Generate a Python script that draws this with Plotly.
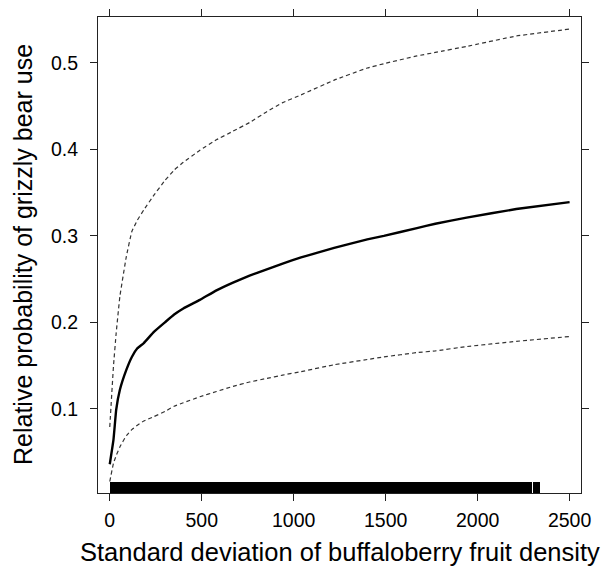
import plotly.graph_objects as go

x_vals = [0, 20, 35, 55, 90, 120, 150, 185, 240, 300, 350, 400, 490, 580, 670,
          760, 850, 940, 1040, 1220, 1400, 1490, 1670, 1770, 1940, 2210, 2500]
mean_prob = [0.036, 0.064, 0.099, 0.122, 0.145, 0.160, 0.170, 0.176, 0.189, 0.200,
             0.209, 0.216, 0.226, 0.237, 0.246, 0.254, 0.261, 0.268, 0.275, 0.286,
             0.296, 0.300, 0.309, 0.314, 0.321, 0.331, 0.339]
upper_ci = [0.079, 0.149, 0.188, 0.230, 0.276, 0.305, 0.318, 0.330, 0.347, 0.364,
            0.376, 0.385, 0.399, 0.411, 0.421, 0.431, 0.443, 0.454, 0.463, 0.480,
            0.494, 0.499, 0.508, 0.512, 0.519, 0.531, 0.539]
lower_ci = [0.016, 0.037, 0.046, 0.056, 0.069, 0.076, 0.081, 0.086, 0.091, 0.097,
            0.103, 0.107, 0.114, 0.120, 0.126, 0.131, 0.135, 0.139, 0.143, 0.151,
            0.157, 0.160, 0.165, 0.167, 0.172, 0.178, 0.1836]

# rug (observed data density) segments along the x axis
rug_start = [0, 2301]
rug_end = [2298, 2341]
rug_base = 0.0027
rug_height = 0.0125

x_ticks = [0, 500, 1000, 1500, 2000, 2500]
y_ticks = [0.1, 0.2, 0.3, 0.4, 0.5]
y_tick_text = ["0.1", "0.2", "0.3", "0.4", "0.5"]

x_title = "Standard deviation of buffaloberry fruit density"
y_title = "Relative probability of grizzly bear use"

FONT = "Liberation Sans, Arial, sans-serif"

fig = go.Figure()

fig.add_trace(go.Bar(
    x=[(s + e) / 2 for s, e in zip(rug_start, rug_end)],
    width=[e - s for s, e in zip(rug_start, rug_end)],
    y=[rug_height] * len(rug_start),
    base=[rug_base] * len(rug_start),
    marker=dict(color="black", line=dict(width=0)),
    showlegend=False, hoverinfo="skip",
))

dash_line = dict(color="#333333", width=1.2, dash="4px,3px", shape="spline", smoothing=0.3)
fig.add_trace(go.Scatter(x=x_vals, y=upper_ci, mode="lines", line=dash_line, showlegend=False))
fig.add_trace(go.Scatter(x=x_vals, y=lower_ci, mode="lines", line=dash_line, showlegend=False))
fig.add_trace(go.Scatter(x=x_vals, y=mean_prob, mode="lines",
                         line=dict(color="black", width=2.4, shape="spline", smoothing=0.3),
                         showlegend=False))

fig.update_layout(
    width=601, height=567,
    margin=dict(l=98, r=20, t=17, b=74),
    paper_bgcolor="white", plot_bgcolor="white",
    font=dict(family=FONT, color="black"),
    bargap=0,
    annotations=[
        dict(text=x_title, xref="paper", yref="paper", x=0.5, y=0,
             xanchor="center", yanchor="middle", yshift=-59, showarrow=False,
             font=dict(size=25.5, family=FONT, color="black")),
        dict(text=y_title, xref="paper", yref="paper", x=0, y=0.5,
             xanchor="center", yanchor="middle", xshift=-75, textangle=-90,
             showarrow=False, font=dict(size=25, family=FONT, color="black")),
    ],
)

axis_common = dict(
    ticks="outside", ticklen=7, tickwidth=1, tickcolor="#222222",
    showline=True, linecolor="#222222", linewidth=1, mirror="allticks",
    showgrid=False, zeroline=False, automargin=False,
    tickfont=dict(size=19.5, family=FONT, color="black"),
)
fig.update_xaxes(range=[-64, 2562], tickvals=x_ticks,
                 ticktext=[str(v) for v in x_ticks], ticklabelstandoff=3, **axis_common)
fig.update_yaxes(range=[0.0027, 0.553], tickvals=y_ticks,
                 ticktext=y_tick_text, ticklabelstandoff=8, **axis_common)

fig.write_html("out.html", config={"displayModeBar": False},
               post_script="document.body.style.margin='0';")
